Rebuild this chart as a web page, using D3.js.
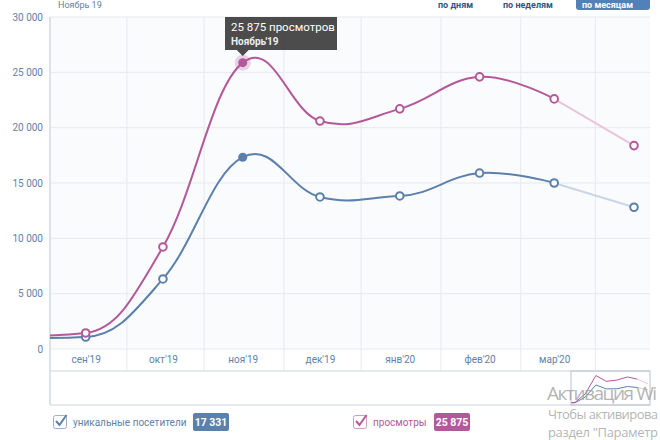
<!DOCTYPE html>
<html><head><meta charset="utf-8">
<script src="https://cdn.jsdelivr.net/npm/d3@7"></script>
<style>
html,body{margin:0;padding:0;background:#fff;overflow:hidden;}
svg{display:block;font-family:Roboto,"Open Sans",sans-serif;}
</style></head>
<body><svg id="c" width="660" height="440"></svg>
<script>
// ---- data ----
const monthLabels = ["авг'19","сен'19","окт'19","ноя'19","дек'19","янв'20","фев'20","мар'20","апр'20"];
const monthDates  = ["2019-08-01","2019-09-01","2019-10-01","2019-11-01","2019-12-01","2020-01-01","2020-02-01","2020-03-01","2020-04-01"];
const visitors    = [950, 1080, 6330, 17331, 13740, 13830, 15900, 15000, 12810];
const views       = [1150, 1450, 9220, 25875, 20600, 21700, 24590, 22600, 18380];
const shownTickLabels = ["сен'19","окт'19","ноя'19","дек'19","янв'20","фев'20","мар'20"];
const yTicks = [0, 5000, 10000, 15000, 20000, 25000, 30000];
const legendNames = ["уникальные посетители", "просмотры"];
const legendTotals = [17331, 25875];
const tooltipLines = ["25 875 просмотров", "Ноябрь'19"];
const buttons = ["по дням", "по неделям", "по месяцам"];
const watermark = ["Активация Wi", "Чтобы активирова", "раздел \"Параметр"];

// ---- layout ----
const L = 50, R = 650, T = 17, B = 349, AX = 371, NB = 405;
const blue = "#5b80ab", pink = "#b3599a";
const blueL = "#c9d6e5", pinkL = "#e9c5dc";
const labelCol = "#5f82a8";
const lastFull = 7; // index of last complete month

const svg = d3.select("#c");
const fmt = d3.formatLocale({decimal:",", thousands:"\u00a0", grouping:[3], currency:["",""]}).format(",");
const parse = d3.utcParse("%Y-%m-%d");
const dates = monthDates.map(parse);

const x = d3.scaleUtc().domain([dates[1], dates[8]]).range([85.7, 634]);
const y = d3.scaleLinear().domain([0, 30000]).range([B, T]);

// Highcharts-like spline through pixel points
function splinePath(pts) {
  const sm = 1.5, den = 2.5;
  const c = pts.map((p, i) => {
    const prev = pts[i - 1], next = pts[i + 1];
    if (!prev || !next) return {lx: p[0], ly: p[1], rx: p[0], ry: p[1]};
    let lx = (sm * p[0] + prev[0]) / den, ly = (sm * p[1] + prev[1]) / den;
    let rx = (sm * p[0] + next[0]) / den, ry = (sm * p[1] + next[1]) / den;
    const corr = ((ry - ly) * (rx - p[0])) / (rx - lx) + p[1] - ry;
    ly += corr; ry += corr;
    if (ly > prev[1] && ly > p[1]) { ly = Math.max(prev[1], p[1]); ry = 2 * p[1] - ly; }
    else if (ly < prev[1] && ly < p[1]) { ly = Math.min(prev[1], p[1]); ry = 2 * p[1] - ly; }
    return {lx, ly, rx, ry};
  });
  const path = d3.path();
  path.moveTo(pts[0][0], pts[0][1]);
  for (let i = 1; i < pts.length; i++) {
    path.bezierCurveTo(c[i - 1].rx, c[i - 1].ry, c[i].lx, c[i].ly, pts[i][0], pts[i][1]);
  }
  return path.toString();
}

// top cut-off controls
svg.append("text").attr("x", 58).attr("y", 8).attr("fill", "#5f82a8").attr("font-size", 9).text("Ноябрь 19");
const btnX = [438, 503, 582];
svg.append("rect").attr("x", 576).attr("y", -20).attr("width", 74).attr("height", 30).attr("rx", 3).attr("fill", "#5181b8");
buttons.forEach((b, i) => {
  svg.append("text").attr("x", btnX[i]).attr("y", 8)
    .attr("font-size", 9).attr("font-weight", "bold")
    .attr("fill", i === 2 ? "#fff" : "#2a5885").text(b);
});

// plot bg
svg.append("rect").attr("x", L).attr("y", T).attr("width", R - L).attr("height", B - T).attr("fill", "#fafbfd");

// clips
svg.append("clipPath").attr("id", "plotclip").append("rect").attr("x", L).attr("y", 0).attr("width", R - L).attr("height", B + 2);

// horizontal grid
svg.append("g").selectAll("line").data(yTicks).join("line")
  .attr("x1", L).attr("x2", R).attr("y1", d => y(d)).attr("y2", d => y(d))
  .attr("stroke", "#e6e9f0").attr("stroke-width", 1);

// vertical grid (between months)
const gridDates = dates.map(d => d3.utcDay.offset(d, 16)).filter(d => x(d) > L && x(d) < R);
svg.append("g").selectAll("line").data(gridDates).join("line")
  .attr("x1", d => x(d)).attr("x2", d => x(d)).attr("y1", T).attr("y2", AX)
  .attr("stroke", "#e6e9f0").attr("stroke-width", 1);

// axis band lines
svg.append("line").attr("x1", L).attr("x2", R).attr("y1", AX).attr("y2", AX).attr("stroke", "#dde2ea").attr("stroke-width", 1.5);
svg.append("line").attr("x1", L).attr("x2", R).attr("y1", NB).attr("y2", NB).attr("stroke", "#dde2ea").attr("stroke-width", 1.5);
svg.append("line").attr("x1", L).attr("x2", L).attr("y1", T).attr("y2", NB).attr("stroke", "#dde2ea").attr("stroke-width", 2);

// y axis labels
const yAxis = d3.axisLeft(y).tickValues(yTicks).tickFormat(d => fmt(d)).tickSize(0).tickPadding(7);
const gy = svg.append("g").attr("transform", `translate(${L},0)`).call(yAxis);
gy.select(".domain").remove();
gy.selectAll("text").attr("fill", labelCol).attr("font-size", 10).attr("font-family", "Roboto, sans-serif");

// x axis labels
const tickDates = dates.filter((d, i) => shownTickLabels.includes(monthLabels[i]));
const xAxis = d3.axisBottom(x).tickValues(tickDates)
  .tickFormat(d => monthLabels[dates.findIndex(e => +e === +d)]).tickSize(0).tickPadding(7);
const gx = svg.append("g").attr("transform", `translate(0,${B})`).call(xAxis);
gx.select(".domain").remove();
gx.selectAll("text").attr("fill", labelCol).attr("font-size", 10).attr("font-family", "Roboto, sans-serif");

// lines
const series = [
  {vals: visitors, c: blue, cl: blueL},
  {vals: views, c: pink, cl: pinkL}
];
const gl = svg.append("g").attr("clip-path", "url(#plotclip)");
series.forEach(s => {
  const pts = s.vals.map((v, i) => [x(dates[i]), y(v)]);
  gl.append("path").attr("d", d3.line()(pts.slice(lastFull))).attr("fill", "none").attr("stroke", s.cl).attr("stroke-width", 2);
  gl.append("path").attr("d", splinePath(pts.slice(0, lastFull + 1))).attr("fill", "none").attr("stroke", s.c).attr("stroke-width", 2);
});
// points
series.forEach((s, si) => {
  s.vals.forEach((v, i) => {
    if (i === 0) return;
    const cx = x(dates[i]), cy = y(v);
    if (i === 3) {
      if (si === 1) gl.append("circle").attr("cx", cx).attr("cy", cy).attr("r", 8).attr("fill", s.c).attr("opacity", 0.25);
      gl.append("circle").attr("cx", cx).attr("cy", cy).attr("r", 4.5).attr("fill", s.c);
    } else {
      gl.append("circle").attr("cx", cx).attr("cy", cy).attr("r", 3.8).attr("fill", "#fff").attr("stroke", s.c).attr("stroke-width", 2);
    }
  });
});

// navigator
const nx = d3.scaleUtc().domain([dates[1], dates[8]]).range([575, 648]);
const ny = d3.scaleLinear().domain([0, 30000]).range([404, 371]);
svg.append("clipPath").attr("id", "navclip").append("rect").attr("x", 571).attr("y", AX).attr("width", R - 571).attr("height", NB - AX);
const gn = svg.append("g").attr("clip-path", "url(#navclip)");
series.forEach(s => {
  const pts = s.vals.map((v, i) => [nx(dates[i]), ny(v)]);
  gn.append("path").attr("d", d3.line()(pts.slice(0, lastFull + 1))).attr("fill", "none").attr("stroke", s.c).attr("stroke-width", 1);
  gn.append("path").attr("d", d3.line()(pts.slice(lastFull))).attr("fill", "none").attr("stroke", s.cl).attr("stroke-width", 1);
});
svg.append("rect").attr("x", 571).attr("y", AX).attr("width", R - 571).attr("height", NB - AX)
  .attr("fill", "none").attr("stroke", "#b9c3d0").attr("stroke-width", 1);

// tooltip
const px = x(dates[3]);
const tt = svg.append("g");
tt.append("path").attr("d", `M225,17h112v33h${-(337 - px - 6)}l-6,6l-6,-6h${-(px - 6 - 225)}z`)
  .attr("fill", "#333").attr("fill-opacity", 0.88);
tt.append("text").attr("x", 231).attr("y", 31).attr("fill", "#fff").attr("font-size", 11.5).text(tooltipLines[0]);
tt.append("text").attr("x", 231).attr("y", 45).attr("fill", "#eee").attr("font-size", 10).attr("font-weight", "bold").text(tooltipLines[1]);

// legend
const legX = [53, 353];
const badgeX = [193, 434];
const legTextCol = [labelCol, pink];
const badgeCol = [blue, pink];
series.forEach((s, i) => {
  const g = svg.append("g");
  g.append("rect").attr("x", legX[i] + 0.5).attr("y", 415.5).attr("width", 13).attr("height", 13).attr("rx", 2)
    .attr("fill", "#fff").attr("stroke", s.c).attr("stroke-opacity", 0.6);
  g.append("path").attr("d", `M${legX[i] + 3},421 l3.5,4 l7,-10`).attr("fill", "none").attr("stroke", s.c).attr("stroke-width", 2);
  g.append("text").attr("x", legX[i] + 20).attr("y", 426).attr("font-size", 10).attr("fill", legTextCol[i]).text(legendNames[i]);
  g.append("rect").attr("x", badgeX[i]).attr("y", 413).attr("width", 36).attr("height", 18).attr("rx", 2).attr("fill", badgeCol[i]);
  g.append("text").attr("x", badgeX[i] + 18).attr("y", 426).attr("text-anchor", "middle").attr("font-size", 10.5)
    .attr("font-weight", "bold").attr("fill", "#fff").text(fmt(legendTotals[i]));
});

// OS watermark (visible part)
const wm = svg.append("g").attr("fill", "#9a9a9a").attr("fill-opacity", 0.75).attr("font-family", "Open Sans, sans-serif");
wm.append("text").attr("x", 547).attr("y", 400).attr("font-size", 19).attr("textLength", 110).text(watermark[0]);
wm.append("text").attr("x", 548).attr("y", 419).attr("font-size", 13).attr("textLength", 110).text(watermark[1]);
wm.append("text").attr("x", 548).attr("y", 437).attr("font-size", 13).attr("textLength", 110).text(watermark[2]);
</script></body></html>
